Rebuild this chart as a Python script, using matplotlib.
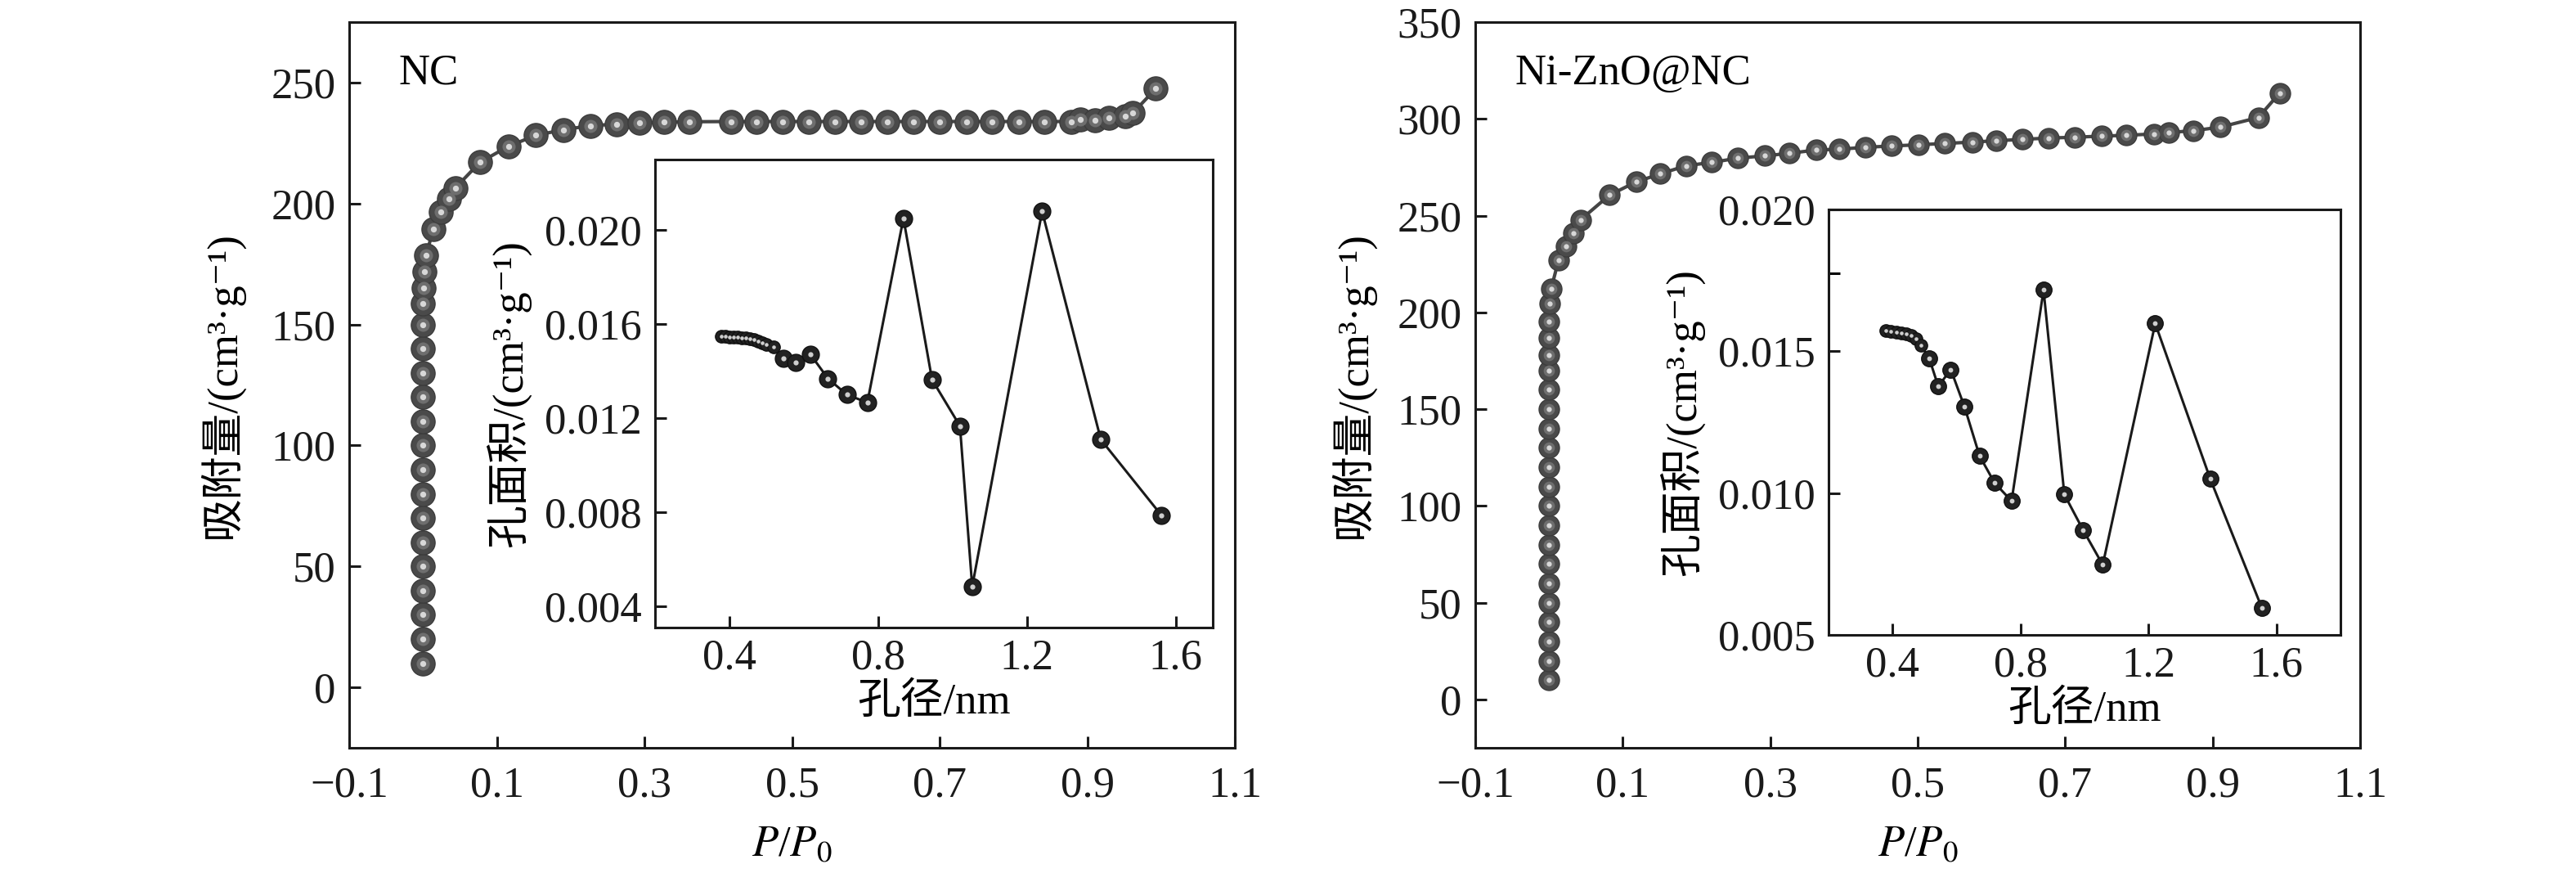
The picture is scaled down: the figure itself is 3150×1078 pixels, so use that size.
import matplotlib
matplotlib.use("Agg")
import matplotlib.pyplot as plt

plt.rcParams['font.family'] = ['Liberation Serif', 'Noto Sans CJK SC', 'DejaVu Serif']
plt.rcParams['mathtext.fontset'] = 'stix'
plt.rcParams['axes.unicode_minus'] = True

# ---------------- data ----------------
# NC isotherm
nc_p = [0, 0, 0, 0, 0, 0, 0, 0, 0, 0, 0, 0, 0, 0, 0,
        0.0, 0.001, 0.002, 0.004, 0.014, 0.024, 0.035, 0.044, 0.077, 0.116, 0.153,
        0.19, 0.227, 0.262, 0.293, 0.327, 0.361, 0.417, 0.452, 0.487, 0.523, 0.558,
        0.594, 0.629, 0.664, 0.70, 0.736, 0.771, 0.807, 0.842, 0.878, 0.891, 0.91,
        0.929, 0.952, 0.962, 0.993]
nc_q = [10, 20, 30, 40, 50, 60, 70, 80, 90, 100, 110, 120, 130, 140, 150,
        158.7, 165, 171.8, 178.5, 189.3, 196.6, 202, 206.5, 217, 223.7, 228.2,
        230.5, 232.2, 232.8, 233.3, 233.6, 233.8, 233.9, 233.9, 233.9, 233.9, 233.9,
        233.9, 233.9, 233.9, 233.9, 233.9, 233.9, 233.9, 233.9, 233.9, 234.6, 234.3,
        235.3, 236.2, 237.5, 247.5]
# NC pore distribution (inset)
nc_d = [0.378, 0.389, 0.400, 0.411, 0.422, 0.433, 0.444, 0.455, 0.466, 0.477, 0.488,
        0.500, 0.518, 0.545, 0.579, 0.618, 0.665, 0.716, 0.771, 0.868, 0.945, 1.02,
        1.053, 1.241, 1.399, 1.562]
nc_v = [0.01547, 0.01547, 0.01546, 0.01545, 0.01544, 0.01543, 0.01541, 0.01538, 0.01534,
        0.01529, 0.01522, 0.01515, 0.01503, 0.01453, 0.01436, 0.01471, 0.01369, 0.0130,
        0.01267, 0.0205, 0.01364, 0.01167, 0.00484, 0.0208, 0.01109, 0.00787]

# Ni-ZnO@NC isotherm
nz_p = [0]*18 + [0.0, 0.0, 0.001, 0.003, 0.013, 0.023, 0.033, 0.043, 0.082, 0.118, 0.151,
                 0.186, 0.221, 0.256, 0.293, 0.326, 0.362, 0.393, 0.429, 0.465, 0.501,
                 0.537, 0.574, 0.607, 0.642, 0.678, 0.713, 0.75, 0.783, 0.82, 0.840,
                 0.874, 0.91, 0.962, 0.991]
nz_q = [10, 20, 30, 40, 50, 60, 70, 80, 90, 100, 110, 120, 130, 140, 150, 160, 170, 178,
        186.9, 195.3, 204.7, 212.3, 227.1, 234.3, 241.0, 247.9, 260.6, 267.4, 271.6,
        275.8, 277.5, 279.7, 280.9, 282.2, 283.9, 284.3, 285.3, 286.0, 286.6,
        287.3, 288.0, 288.7, 289.4, 290.1, 290.5, 291.1, 291.5, 292.2, 292.9,
        293.9, 295.7, 300.7, 313.4]
# Ni-ZnO@NC pore distribution (inset)
nz_d = [0.379, 0.395, 0.411, 0.427, 0.443, 0.459, 0.473, 0.489, 0.515, 0.543, 0.582,
        0.625, 0.672, 0.719, 0.772, 0.872, 0.937, 0.996, 1.057, 1.221, 1.393, 1.554]
nz_v = [0.01572, 0.0157, 0.01568, 0.01565, 0.01561, 0.01555, 0.01544, 0.01521, 0.01474,
        0.01376, 0.01436, 0.01304, 0.01131, 0.01036, 0.00972, 0.01716, 0.00995, 0.00869,
        0.00747, 0.01598, 0.0105, 0.00596]

main_xticks = [-0.1, 0.1, 0.3, 0.5, 0.7, 0.9, 1.1]
main_xlabels = ['\u22120.1', '0.1', '0.3', '0.5', '0.7', '0.9', '1.1']
nc_yticks = [0, 50, 100, 150, 200, 250]
nz_yticks = [0, 50, 100, 150, 200, 250, 300, 350]
inset_xticks = [0.4, 0.8, 1.2, 1.6]
inset_xlabels = ['0.4', '0.8', '1.2', '1.6']
nc_inset_yticks = [0.004, 0.008, 0.012, 0.016, 0.020]
nc_inset_ylabels = ['0.004', '0.008', '0.012', '0.016', '0.020']
nz_inset_yticks = [0.005, 0.010, 0.015, 0.020]
nz_inset_ylabels = ['0.005', '0.010', '0.015', '0.020']

main_ylabel = '吸附量/(cm\u00b3\u00b7g\u207b\u00b9)'
main_xlabel = '$P$/$P_{0}$'
inset_ylabel = '孔面积/(cm\u00b3\u00b7g\u207b\u00b9)'
inset_xlabel = '孔径/nm'

# ---------------- style ----------------
FS = 38
fig = plt.figure(figsize=(31.5, 10.78), dpi=100)


def style_axes(ax, pad_x=16, pad_y=12):
    for s in ax.spines.values():
        s.set_linewidth(2.2)
        s.set_color('#1a1a1a')
    ax.tick_params(direction='in', length=10, width=2.2, labelsize=FS,
                   top=False, right=False, colors='#1a1a1a')
    ax.tick_params(axis='x', pad=pad_x)
    ax.tick_params(axis='y', pad=pad_y)


def balls(ax, x, y, ms, lw):
    ax.plot(x, y, '-', color='#454545', lw=lw, zorder=2)
    ax.plot(x, y, 'o', ms=ms, mfc='#4a4a4a', mec='#3c3c3c', mew=1.0, zorder=3)
    ax.plot(x, y, 'o', ms=ms * 0.55, mfc='#6e6e6e', mec='none', zorder=4)
    ax.plot(x, y, 'o', ms=ms * 0.25, mfc='#d8d8d8', mec='none', zorder=5)


def dots(ax, x, y, n_small, ms_small, ms_big):
    ax.plot(x, y, '-', color='#1a1a1a', lw=2.2, zorder=2)
    ax.plot(x[:n_small], y[:n_small], 'o', ms=ms_small, mfc='#222222', mec='#111111', zorder=3)
    ax.plot(x[n_small:], y[n_small:], 'o', ms=ms_big, mfc='#222222', mec='#111111', zorder=3)
    ax.plot(x[:n_small], y[:n_small], 'o', ms=ms_small * 0.3, mfc='#cfcfcf', mec='none', zorder=4)
    ax.plot(x[n_small:], y[n_small:], 'o', ms=ms_big * 0.3, mfc='#cfcfcf', mec='none', zorder=4)


# ----- left main -----
axL = fig.add_axes([0.13556, 0.15213, 0.34381, 0.82282])
balls(axL, nc_p, nc_q, 21, 3.0)
axL.set_xlim(-0.1, 1.1)
axL.set_ylim(-25, 275)
axL.set_xticks(main_xticks, main_xlabels)
axL.set_yticks(nc_yticks)
style_axes(axL)
axL.set_xlabel(main_xlabel, fontsize=FS, labelpad=18)
axL.set_ylabel(main_ylabel, fontsize=FS, labelpad=24)
axL.text(0.056, 0.929, 'NC', transform=axL.transAxes, fontsize=FS, va='center', ha='left')

# ----- left inset -----
axLi = fig.add_axes([0.25429, 0.28850, 0.21651, 0.53061])
dots(axLi, nc_d, nc_v, 13, 11, 15)
axLi.set_xlim(0.2, 1.7)
axLi.set_ylim(0.0031, 0.0230)
axLi.set_xticks(inset_xticks, inset_xlabels)
axLi.set_yticks(nc_inset_yticks, nc_inset_ylabels)
style_axes(axLi, pad_x=10, pad_y=12)
axLi.set_xlabel(inset_xlabel, fontsize=FS, labelpad=4)
axLi.set_ylabel(inset_ylabel, fontsize=FS, labelpad=12)

# ----- right main -----
axR = fig.add_axes([0.57270, 0.15213, 0.34349, 0.82282])
balls(axR, nz_p, nz_q, 18, 3.0)
axR.set_xlim(-0.1, 1.1)
axR.set_ylim(-25, 350)
axR.set_xticks(main_xticks, main_xlabels)
axR.set_yticks(nz_yticks)
style_axes(axR)
axR.set_xlabel(main_xlabel, fontsize=FS, labelpad=18)
axR.set_ylabel(main_ylabel, fontsize=FS, labelpad=20)
axR.text(0.045, 0.929, 'Ni-ZnO@NC', transform=axR.transAxes, fontsize=FS, va='center', ha='left')

# ----- right inset -----
axRi = fig.add_axes([0.70984, 0.28015, 0.19873, 0.48237])
dots(axRi, nz_d, nz_v, 8, 11, 14)
axRi.set_xlim(0.2, 1.8)
axRi.set_ylim(0.005, 0.020)
axRi.set_xticks(inset_xticks, inset_xlabels)
axRi.set_yticks(nz_inset_yticks, nz_inset_ylabels)
axRi.set_yticks([0.01775], minor=True)
axRi.tick_params(axis='y', which='minor', direction='in', length=10, width=2.2)
style_axes(axRi, pad_x=10, pad_y=12)
axRi.set_xlabel(inset_xlabel, fontsize=FS, labelpad=4)
axRi.set_ylabel(inset_ylabel, fontsize=FS, labelpad=12)

fig.savefig('out.png', dpi=100, facecolor='white')
